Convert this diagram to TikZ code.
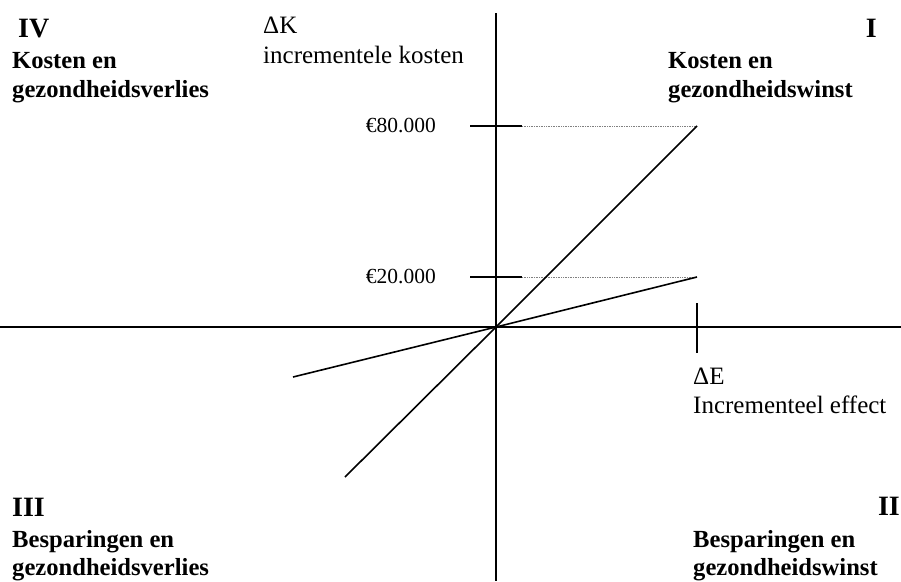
\documentclass[tikz,border=0pt]{standalone}
\usepackage{fontspec}
\setmainfont{Liberation Serif}
\usetikzlibrary{positioning,calc}

\begin{document}
\begin{tikzpicture}[x=1pt,y=-1pt,
  axis/.style={line width=1.6pt},
  guide/.style={densely dotted, gray, line width=0.7pt},
  quad/.style={font=\fontsize{24.6}{29}\selectfont\bfseries, inner sep=0pt, anchor=base west},
  roman/.style={font=\fontsize{28}{28}\selectfont\bfseries, inner sep=0pt, anchor=base west},
  lbl/.style={font=\fontsize{25}{28}\selectfont, inner sep=0pt, anchor=base west},
  money/.style={font=\fontsize{21.5}{21.5}\selectfont, inner sep=0pt, anchor=base east}]
\useasboundingbox (0,0) rectangle (901,581);
% assen
\coordinate (O) at (496,327);
\coordinate (ytop) at (496,13);
\coordinate (ybot) at (496,581);
\coordinate (xl) at (0,327);
\coordinate (xr) at (901,327);
\draw[axis] (ytop) -- (ybot);
\draw[axis] (xl) -- (xr);
% kosten op de y-as
\foreach \n/\y/\v in {hi/126/80.000, lo/277/20.000}{
  \coordinate (t\n a) at (470,\y);
  \coordinate (t\n b) at (522,\y);
  \coordinate (e\n) at (697,\y);
  \draw[axis] (t\n a) -- (t\n b);
  \draw[guide] (t\n b) -- (e\n);
  \node[money] (m\n) at (436,\y+6) {€\v};
}
% effect op de x-as
\coordinate (ea) at (697,303);
\coordinate (eb) at (697,353);
\draw[axis] (ea) -- (eb);
% kosteneffectiviteitslijnen
\coordinate (shi) at (345,477);
\coordinate (slo) at (293,377);
\draw[axis] (shi) -- (O) -- (ehi);
\draw[axis] (slo) -- (O) -- (elo);
% kwadranten
\node[roman] (qIV) at (18,37) {IV};
\node[roman,anchor=base east] (qI) at (877,37) {I};
\node[roman] (qIII) at (12,516) {III};
\node[roman,anchor=base east] (qII) at (900,515) {II};
\foreach \n/\x/\y/\t in {
  kIVa/12/68/{Kosten en}, kIVb/12/97/{gezondheidsverlies},
  kIa/668/68/{Kosten en}, kIb/668/97/{gezondheidswinst},
  kIIIa/12/547/{Besparingen en}, kIIIb/12/575/{gezondheidsverlies},
  kIIa/693/547/{Besparingen en}, kIIb/693/575/{gezondheidswinst}}
  \node[quad] (\n) at (\x,\y) {\t};
% aslabels
\node[lbl] (dK) at (263,33) {ΔK};
\node[lbl] (dKt) at (263,63) {incrementele kosten};
\node[lbl] (dE) at (693,384) {ΔE};
\node[lbl] (dEt) at (693,413) {Incrementeel effect};
\end{tikzpicture}
\end{document}
